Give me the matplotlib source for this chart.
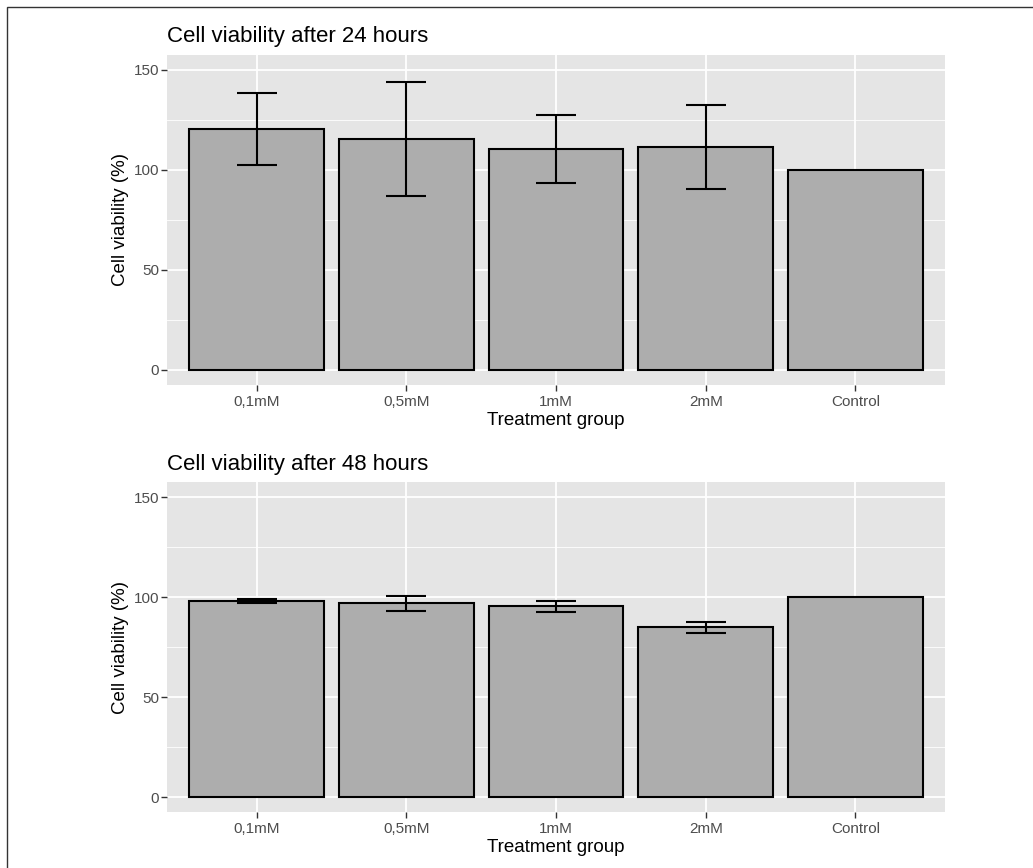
import numpy as np
import matplotlib
matplotlib.use("Agg")
import matplotlib.pyplot as plt
from matplotlib.patches import Rectangle

plt.rcParams["font.family"] = ["Liberation Sans", "DejaVu Sans"]

groups = ["0,1mM", "0,5mM", "1mM", "2mM", "Control"]

# 24 h: mean, lower and upper ends of error bars
mean_24 = [120.5, 115.5, 110.7, 111.5, 100.0]
low_24 = [102.5, 86.9, 93.4, 90.7, 100.0]
high_24 = [138.3, 144.1, 127.7, 132.5, 100.0]

# 48 h
mean_48 = [98.0, 97.0, 95.6, 85.1, 100.0]
low_48 = [97.2, 93.2, 92.7, 82.2, 100.0]
high_48 = [99.2, 100.7, 98.2, 87.6, 100.0]

panels = [
    ("Cell viability after 24 hours", mean_24, low_24, high_24),
    ("Cell viability after 48 hours", mean_48, low_48, high_48),
]

BG = "#E5E5E5"
BAR = "#ADADAD"
TICK_COL = "#4D4D4D"

fig = plt.figure(figsize=(10.33, 8.68), dpi=100)
# thin frame around the figure
fig.patches.append(Rectangle((7 / 1033, -0.01), 1.02, 1 - 7 / 868 + 0.01,
                             transform=fig.transFigure, fill=False,
                             edgecolor="#333333", linewidth=1.0))

positions = [[0.1614, 0.5565, 0.7537, 0.3802],
             [0.1614, 0.0645, 0.7537, 0.3802]]

for pos, (title, mean, low, high) in zip(positions, panels):
    ax = fig.add_axes(pos)
    ax.set_facecolor(BG)
    x = np.arange(1, len(groups) + 1)

    # grid
    for v in [25, 75, 125]:
        ax.axhline(v, color="white", linewidth=0.6, zorder=0)
    for v in [0, 50, 100, 150]:
        ax.axhline(v, color="white", linewidth=1.3, zorder=0)
    for xi in x:
        ax.axvline(xi, color="white", linewidth=1.3, zorder=0)

    ax.bar(x, mean, width=0.9, color=BAR, edgecolor="black", linewidth=1.5, zorder=2)
    mean_a = np.array(mean)
    err = [mean_a - np.array(low), np.array(high) - mean_a]
    has_err = np.array(high) > np.array(low)
    ax.errorbar(x[has_err], mean_a[has_err],
                yerr=[err[0][has_err], err[1][has_err]],
                fmt="none", ecolor="black", elinewidth=1.5,
                capsize=14.5, capthick=1.5, zorder=3)

    ax.set_xlim(0.4, 5.6)
    ax.set_ylim(-7.5, 157.5)
    ax.set_xticks(x)
    ax.set_xticklabels(groups)
    ax.set_yticks([0, 50, 100, 150])
    ax.tick_params(axis="both", colors="#333333", labelcolor=TICK_COL,
                   labelsize=11, length=4, width=1)
    ax.tick_params(axis="y", pad=1.5)
    for s in ax.spines.values():
        s.set_visible(False)

    ax.set_xlabel("Treatment group", fontsize=13.5, labelpad=2)
    ax.set_ylabel("Cell viability (%)", fontsize=13.5, labelpad=3)
    ax.set_title(title, fontsize=16, loc="left", pad=9)

fig.savefig("out.png", dpi=100)
